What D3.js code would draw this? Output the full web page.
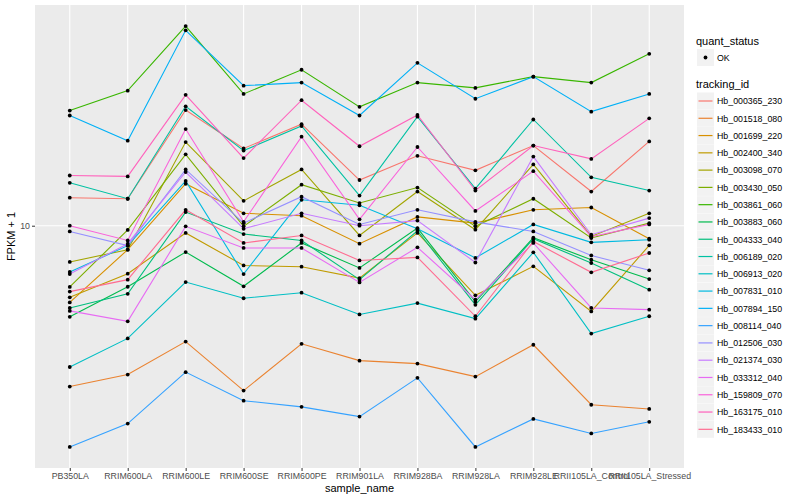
<!DOCTYPE html>
<html>
<head>
<meta charset="utf-8">
<script src="https://cdn.jsdelivr.net/npm/d3@7"></script>
<style>
	body { margin: 0; background: #ffffff; }
	text { font-family: "Liberation Sans", Arial, sans-serif; }
</style>
</head>
<body>
<svg id="chart" width="800" height="500"></svg>
<script>

	// samples on the x axis
	var samples = ["PB350LA", "RRIM600LA", "RRIM600LE", "RRIM600SE", "RRIM600PE", "RRIM901LA",
		"RRIM928BA", "RRIM928LA", "RRIM928LE", "RRII105LA_Control", "RRII105LA_Stressed"];

	var quantStatus = ["OK"];
	var yTicks = [10];

	// FPKM + 1, one array per gene, same order as samples
	var hb_000365_230 = [12.4, 12.3, 24.3, 18.1, 21.8, 14.2, 17.1, 15.3, 18.5, 13.0, 19.1];
	var hb_001518_080 = [2.91, 3.19, 4.11, 2.82, 4.04, 3.55, 3.47, 3.14, 4.01, 2.53, 2.45];
	var hb_001699_220 = [5.55, 8.32, 13.8, 11.0, 10.8, 8.71, 10.7, 10.2, 11.3, 11.5, 9.05];
	var hb_002400_340 = [5.77, 6.92, 9.46, 7.37, 7.30, 6.69, 9.46, 5.86, 7.32, 5.18, 8.60];
	var hb_003098_070 = [7.57, 8.32, 19.0, 12.1, 15.4, 9.28, 13.0, 9.70, 16.0, 9.21, 11.0];
	var hb_003430_050 = [6.25, 9.68, 17.3, 9.95, 13.7, 11.9, 13.4, 9.95, 12.3, 9.10, 10.2];
	var hb_003861_060 = [24.2, 28.2, 46.3, 27.5, 33.1, 24.9, 30.0, 28.8, 31.4, 30.0, 37.4];
	var hb_003883_060 = [4.97, 6.26, 8.17, 6.28, 8.76, 7.23, 9.82, 5.58, 9.12, 7.70, 6.64];
	var hb_004333_040 = [5.32, 5.93, 11.1, 9.38, 8.93, 6.61, 9.62, 5.45, 9.05, 7.51, 6.12];
	var hb_006189_020 = [13.9, 12.3, 25.0, 17.8, 21.5, 12.6, 23.1, 13.3, 22.6, 14.5, 13.1];
	var hb_006913_020 = [3.38, 4.21, 6.49, 5.73, 5.98, 5.06, 5.52, 4.90, 8.15, 4.37, 4.99];
	var hb_007831_010 = [7.01, 8.58, 14.1, 6.90, 12.2, 11.7, 9.77, 7.81, 10.1, 8.80, 8.98];
	var hb_007894_150 = [23.3, 19.2, 44.8, 29.3, 30.0, 23.3, 34.9, 26.5, 31.4, 24.0, 27.5];
	var hb_008114_040 = [1.83, 2.19, 3.25, 2.61, 2.49, 2.31, 3.11, 1.83, 2.27, 2.03, 2.22];
	var hb_012506_030 = [9.57, 8.58, 15.4, 10.2, 12.5, 10.1, 11.3, 10.3, 9.57, 7.96, 7.10];
	var hb_021374_030 = [6.90, 8.71, 15.1, 9.77, 11.0, 10.0, 10.4, 7.54, 17.0, 9.33, 10.6];
	var hb_033312_040 = [5.20, 4.80, 9.95, 8.43, 8.43, 6.47, 8.47, 5.67, 8.76, 5.32, 5.25];
	var hb_159809_070 = [10.0, 8.93, 21.0, 10.3, 19.8, 10.5, 18.3, 11.2, 15.2, 9.19, 10.1];
	var hb_163175_010 = [14.7, 14.6, 27.3, 16.8, 26.2, 18.4, 23.4, 13.1, 18.5, 16.7, 22.8];
	var hb_183433_010 = [6.03, 6.61, 11.3, 8.76, 9.28, 7.66, 7.84, 4.99, 8.86, 6.99, 8.11];

	var trackingIds = ["Hb_000365_230", "Hb_001518_080", "Hb_001699_220", "Hb_002400_340", "Hb_003098_070",
		"Hb_003430_050", "Hb_003861_060", "Hb_003883_060", "Hb_004333_040", "Hb_006189_020",
		"Hb_006913_020", "Hb_007831_010", "Hb_007894_150", "Hb_008114_040", "Hb_012506_030",
		"Hb_021374_030", "Hb_033312_040", "Hb_159809_070", "Hb_163175_010", "Hb_183433_010"];

	var trackingValues = [hb_000365_230, hb_001518_080, hb_001699_220, hb_002400_340, hb_003098_070,
		hb_003430_050, hb_003861_060, hb_003883_060, hb_004333_040, hb_006189_020,
		hb_006913_020, hb_007831_010, hb_007894_150, hb_008114_040, hb_012506_030,
		hb_021374_030, hb_033312_040, hb_159809_070, hb_163175_010, hb_183433_010];

	// ggplot hue palette for 20 levels
	var palette = ["#F8766D", "#EA8331", "#D89000", "#C09B00", "#A3A500", "#7CAE00", "#39B600", "#00BB4E",
		"#00BF7D", "#00C1A3", "#00BFC4", "#00BAE0", "#00B0F6", "#35A2FF", "#9590FF", "#C77CFF",
		"#E76BF3", "#FA62DB", "#FF62BC", "#FF6C91"];

	var series = trackingIds.map(function(id, i) {
		return { id: id, values: trackingValues[i], color: palette[i] };
	});

	var panel = { left: 35, right: 684, top: 5, bottom: 468 };

	var svg = d3.select("#chart");

	var x = d3.scalePoint()
		.domain(samples)
		.range([panel.left, panel.right])
		.padding(0.6);

	// log scale with ggplot's 5% expansion
	var allVals = d3.merge(trackingValues);
	var lmin = Math.log10(d3.min(allVals));
	var lmax = Math.log10(d3.max(allVals));
	var pad = (lmax - lmin) * 0.05;

	var y = d3.scaleLog()
		.domain([Math.pow(10, lmin - pad), Math.pow(10, lmax + pad)])
		.range([panel.bottom, panel.top]);

	// panel background
	svg.append("rect")
		.attr("x", panel.left)
		.attr("y", panel.top)
		.attr("width", panel.right - panel.left)
		.attr("height", panel.bottom - panel.top)
		.attr("fill", "#EBEBEB");

	// grid
	var grid = svg.append("g");

	grid.selectAll("line.gx")
		.data(samples)
		.enter()
		.append("line")
		.attr("x1", function (d) { return x(d) })
		.attr("x2", function (d) { return x(d) })
		.attr("y1", panel.top)
		.attr("y2", panel.bottom)
		.attr("stroke", "#ffffff")
		.attr("stroke-width", 1.1);

	grid.selectAll("line.gy")
		.data(yTicks)
		.enter()
		.append("line")
		.attr("x1", panel.left)
		.attr("x2", panel.right)
		.attr("y1", function (d) { return y(d) })
		.attr("y2", function (d) { return y(d) })
		.attr("stroke", "#ffffff")
		.attr("stroke-width", 1.1);

	// lines
	var line = d3.line()
		.x(function (d, i) { return x(samples[i]) })
		.y(function (d) { return y(d) });

	svg.append("g").selectAll("path")
		.data(series)
		.enter()
		.append("path")
		.attr("d", function (d) { return line(d.values) })
		.attr("fill", "none")
		.attr("stroke", function (d) { return d.color })
		.attr("stroke-width", 1.1);

	// points
	var pts = [];
	series.forEach(function(s) {
		s.values.forEach(function(v, i) { pts.push({ sample: samples[i], value: v }); });
	});

	svg.append("g").selectAll("circle")
		.data(pts)
		.enter()
		.append("circle")
		.attr("cx", function (d) { return x(d.sample) })
		.attr("cy", function (d) { return y(d.value) })
		.attr("r", 1.9)
		.attr("fill", "#000000");

	// x axis
	var xAxis = svg.append("g")
		.attr("transform", "translate(0," + panel.bottom + ")")
		.call(d3.axisBottom(x).tickSize(3).tickPadding(2));

	xAxis.select(".domain").remove();
	xAxis.selectAll(".tick line").attr("stroke", "#333333");
	xAxis.selectAll(".tick text")
		.attr("fill", "#4D4D4D")
		.attr("font-size", "8.8px")
		.attr("font-family", "Liberation Sans, Arial, sans-serif");

	// y axis
	var yAxis = svg.append("g")
		.attr("transform", "translate(" + panel.left + ",0)")
		.call(d3.axisLeft(y).tickValues(yTicks).tickFormat(d3.format("d")).tickSize(3).tickPadding(2));

	yAxis.select(".domain").remove();
	yAxis.selectAll(".tick line").attr("stroke", "#333333");
	yAxis.selectAll(".tick text")
		.attr("fill", "#4D4D4D")
		.attr("font-size", "8.8px")
		.attr("font-family", "Liberation Sans, Arial, sans-serif");

	// axis titles
	svg.append("text")
		.attr("x", (panel.left + panel.right) / 2)
		.attr("y", 492)
		.attr("text-anchor", "middle")
		.attr("font-size", "11px")
		.text("sample_name");

	svg.append("text")
		.attr("transform", "translate(15," + ((panel.top + panel.bottom) / 2) + ") rotate(-90)")
		.attr("text-anchor", "middle")
		.attr("font-size", "11px")
		.text("FPKM + 1");

	// legend: quant_status
	var lx = 696;

	svg.append("text")
		.attr("x", lx)
		.attr("y", 44.5)
		.attr("font-size", "11px")
		.text("quant_status");

	var qs = svg.append("g").selectAll("g")
		.data(quantStatus)
		.enter()
		.append("g")
		.attr("transform", function (d, i) { return "translate(" + (lx + 1) + "," + (49 + i * 17.3) + ")" });

	qs.append("rect")
		.attr("width", 17)
		.attr("height", 17)
		.attr("fill", "#F2F2F2");

	qs.append("circle")
		.attr("cx", 8.5)
		.attr("cy", 8.5)
		.attr("r", 1.9)
		.attr("fill", "#000000");

	qs.append("text")
		.attr("x", 20)
		.attr("y", 11.8)
		.attr("font-size", "8.8px")
		.text(function (d) { return d });

	// legend: tracking_id
	svg.append("text")
		.attr("x", lx)
		.attr("y", 88)
		.attr("font-size", "11px")
		.text("tracking_id");

	var keys = svg.append("g").selectAll("g")
		.data(series)
		.enter()
		.append("g")
		.attr("transform", function (d, i) { return "translate(" + (lx + 1) + "," + (92.5 + i * 17.28) + ")" });

	keys.append("rect")
		.attr("width", 17)
		.attr("height", 17)
		.attr("fill", "#F2F2F2");

	keys.append("line")
		.attr("x1", 1.5)
		.attr("x2", 15.5)
		.attr("y1", 8.5)
		.attr("y2", 8.5)
		.attr("stroke", function (d) { return d.color })
		.attr("stroke-width", 1.2);

	keys.append("text")
		.attr("x", 20)
		.attr("y", 11.8)
		.attr("font-size", "8.8px")
		.text(function (d) { return d.id });

</script>
</body>
</html>
